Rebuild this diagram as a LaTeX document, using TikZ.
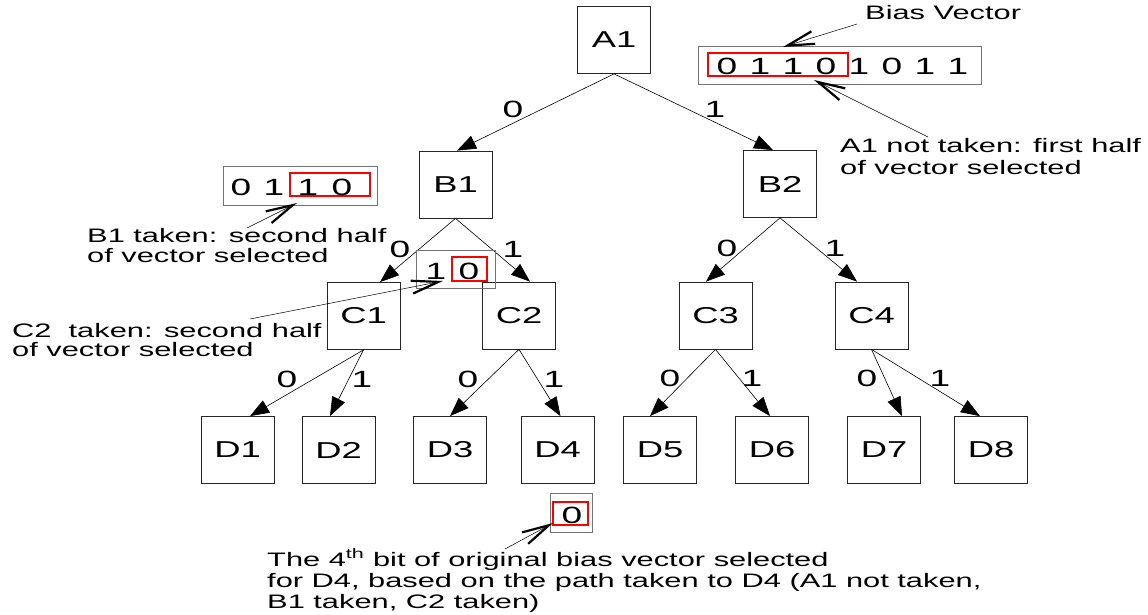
\documentclass[tikz,border=0pt]{standalone}
\usepackage{fontspec}
\setmainfont{Liberation Sans}[FakeStretch=1.58]
\usetikzlibrary{arrows.meta,calc}
\begin{document}
\begin{tikzpicture}[x=1pt,y=-1pt,
  treebox/.style={draw=black!85, line width=0.8pt, minimum width=73pt, minimum height=67pt,
                  inner sep=0pt, font=\fontsize{23}{26}\selectfont},
  vecbox/.style={draw=black!55, line width=0.9pt, inner sep=0pt},
  redbox/.style={draw=red, line width=1.6pt, inner sep=0pt},
  bit/.style={anchor=base, inner sep=0pt, font=\fontsize{23.5}{26}\selectfont},
  edge/.style={line width=0.6pt, -{Triangle[length=19pt,width=14pt]}},
  note/.style={anchor=base west, inner sep=0pt, font=\fontsize{19.5}{21}\selectfont},
  pointer/.style={line width=0.5pt, -{Straight Barb[length=27pt,width=13pt,line width=2.2pt]}},
]
\useasboundingbox (0,0) rectangle (1148,615);

% ---- tree nodes ----
\node[treebox] (A1) at (614,40) {A1};
\node[treebox] (B1) at (455.5,184.5) {B1};
\node[treebox] (B2) at (780,184) {B2};
\node[treebox] (C1) at (363.5,316) {C1};
\node[treebox] (C2) at (519,315.5) {C2};
\node[treebox] (C3) at (715.5,315.5) {C3};
\node[treebox] (C4) at (871.5,315.5) {C4};
\foreach \n/\x in {D1/237.5,D2/338.5,D3/450,D4/557.5,D5/660,D6/772,D7/884,D8/991}
  \node[treebox] (\n) at (\x,450) {\n};

% ---- branches ----
\draw[edge] (A1.south) -- ($(B1.north)+(1.5,0)$);
\draw[edge] (A1.south) -- ($(B2.north)+(-7,0)$);
\draw[edge] (B1.south) -- ($(C1.north)+(16.5,0)$);
\draw[edge] (B1.south) -- ($(C2.north)+(11,0)$);
\draw[edge] (B2.south) -- ($(C3.north)+(-9.5,0)$);
\draw[edge] (B2.south) -- ($(C4.north)+(-14.5,0)$);
\draw[edge] (C1.south) -- ($(D1.north)+(12.5,0)$);
\draw[edge] (C1.south) -- ($(D2.north)+(-8.5,0)$);
\draw[edge] (C2.south) -- (D3.north);
\draw[edge] (C2.south) -- ($(D4.north)+(3,0)$);
\draw[edge] (C3.south) -- ($(D5.north)+(-10,0)$);
\draw[edge] (C3.south) -- ($(D6.north)+(-2,0)$);
\draw[edge] (C4.south) -- ($(D7.north)+(18,0)$);
\draw[edge] (C4.south) -- ($(D8.north)+(-11,0)$);

% ---- branch labels ----
\node[bit] (lAB1) at (513,118) {0};
\node[bit] (lAB2) at (715,118) {1};
\node[bit] (lBC1) at (400,257) {0};
\node[bit] (lBC2) at (513,257) {1};
\node[bit] (lBC3) at (727,256) {0};
\node[bit] (lBC4) at (835,256) {1};
\node[bit] (lCD1) at (287,387) {0};
\node[bit] (lCD2) at (362,387) {1};
\node[bit] (lCD3) at (468,387) {0};
\node[bit] (lCD4) at (554,387) {1};
\node[bit] (lCD5) at (670,386) {0};
\node[bit] (lCD6) at (752,386) {1};
\node[bit] (lCD7) at (867,386) {0};
\node[bit] (lCD8) at (940,386) {1};

% ---- full bias vector ----
\node[vecbox, minimum width=283pt, minimum height=38pt] (bias) at (839.5,65) {};
\node[redbox, minimum width=140pt, minimum height=23pt] (biasSel) at (778,64.5) {};
\foreach \b [count=\i] in {0,1,1,0,1,0,1,1}
  \node[bit] (bias\i) at ({727+33*(\i-1)},75) {\b};

% ---- half vector at B1 ----
\node[vecbox, minimum width=154pt, minimum height=39pt] (vecB) at (300,185.5) {};
\node[redbox, minimum width=80pt, minimum height=23pt] (vecBSel) at (330,184.5) {};
\foreach \b/\x [count=\i] in {0/241,1/274,1/308,0/342}
  \node[bit] (vecB\i) at (\x,195) {\b};

% ---- quarter vector at C2 ----
\node[vecbox, minimum width=79pt, minimum height=38pt] (vecC) at (455.5,269) {};
\node[redbox, minimum width=35pt, minimum height=24pt] (vecCSel) at (469.5,269) {};
\node[bit] (vecC1) at (436,279) {1};
\node[bit] (vecC2) at (469,279) {0};

% ---- single bit at D4 ----
\node[vecbox, minimum width=42pt, minimum height=39pt] (vecD) at (571,512.5) {};
\node[redbox, minimum width=35pt, minimum height=23pt] (vecDSel) at (570.5,513.5) {};
\node[bit] (vecD1) at (572,523) {0};

% ---- notes ----
\node[note] (biasLabel) at (865,20) {Bias Vector};
\node[note] (noteAa) at (840,153) {A1 not taken: first half};
\node[note] (noteAb) at (840,174) {of vector selected};
\node[note] (noteBa) at (87,242) {B1 taken: second half};
\node[note] (noteBb) at (87,262) {of vector selected};
\node[note] (noteCa) at (12,337) {C2\ \ taken: second half};
\node[note] (noteCb) at (12,356) {of vector selected};
\node[note] (noteDa) at (267,566) {The 4\textsuperscript{th} bit of original bias vector selected};
\node[note] (noteDb) at (267,587) {for D4, based on the path taken to D4 (A1 not taken,};
\node[note] (noteDc) at (267,608) {B1 taken, C2 taken)};

% ---- pointers ----
\coordinate (pBiasT) at (857,24);   \coordinate (pBiasH) at (783,47);
\coordinate (pAT) at (928,137);     \coordinate (pAH) at (814,80);
\coordinate (pBT) at (247,228);     \coordinate (pBH) at (297,203);
\coordinate (pCT) at (250,319);     \coordinate (pCH) at (443,281);
\coordinate (pDT) at (505,549);     \coordinate (pDH) at (553,523);
\draw[pointer] (pBiasT) -- (pBiasH);
\draw[pointer] (pAT) -- (pAH);
\draw[pointer] (pBT) -- (pBH);
\draw[pointer] (pCT) -- (pCH);
\draw[pointer] (pDT) -- (pDH);
\end{tikzpicture}
\end{document}
